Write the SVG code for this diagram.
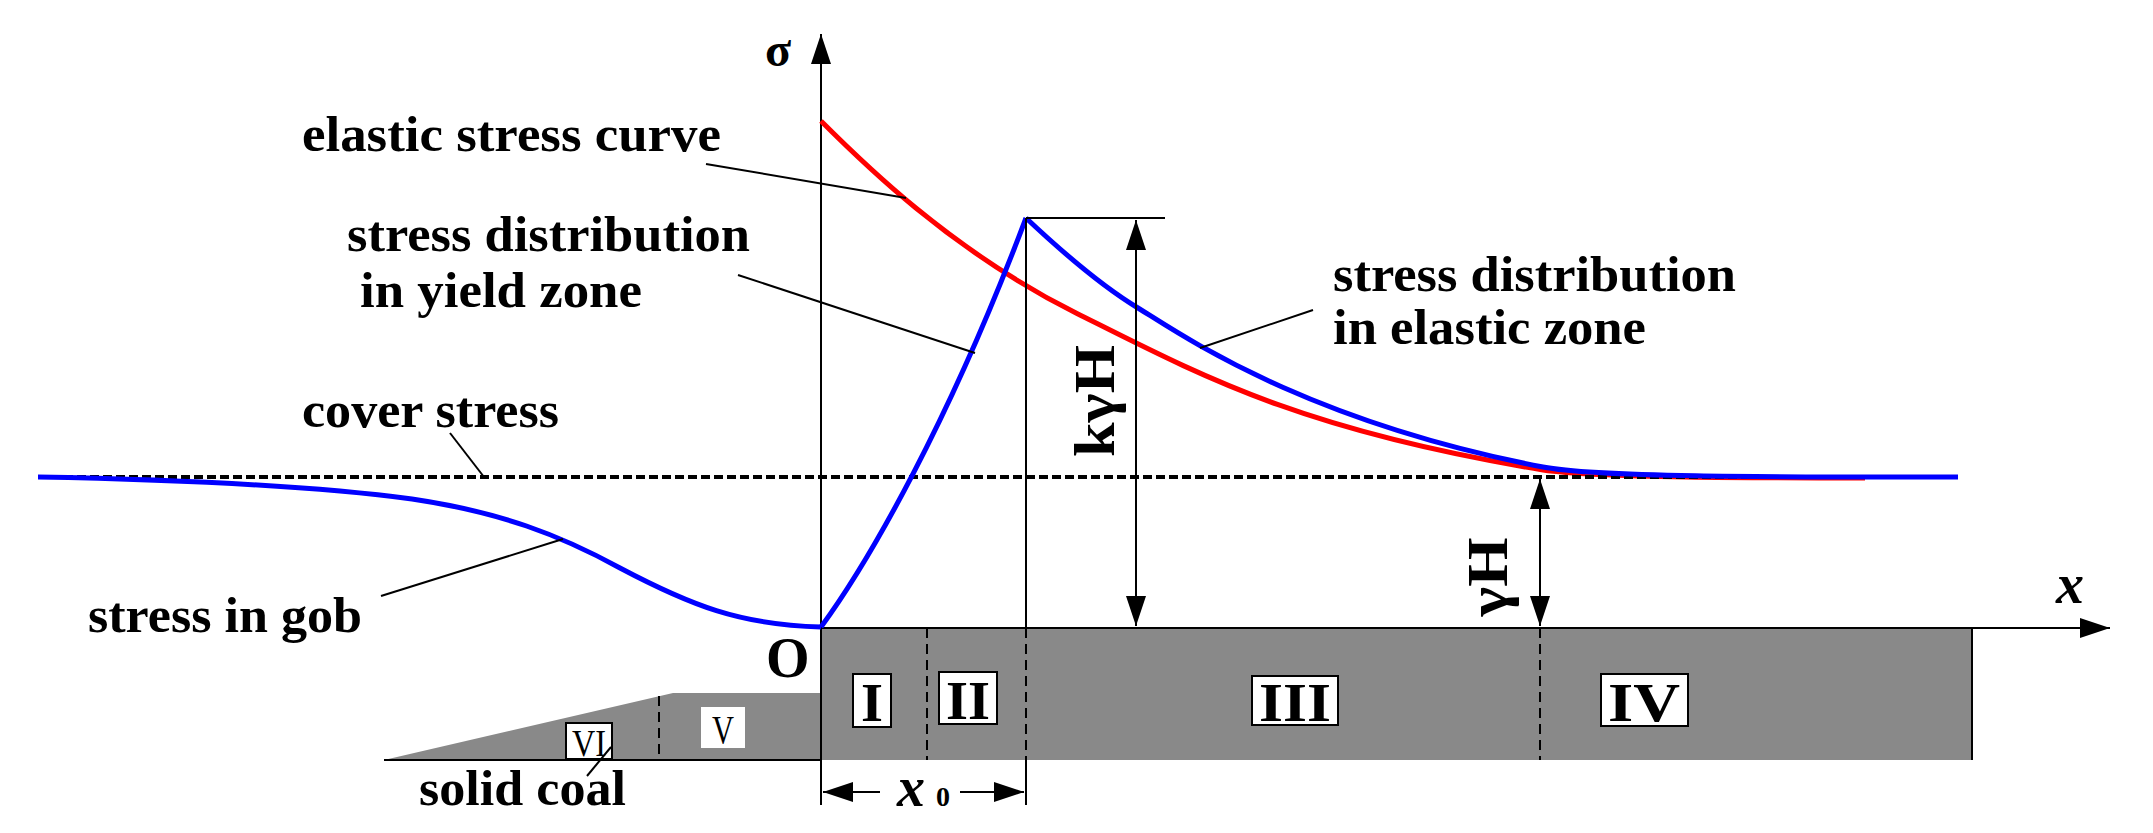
<svg xmlns="http://www.w3.org/2000/svg" width="2153" height="833" viewBox="0 0 2153 833">
<style>
text{font-family:"Liberation Serif",serif;font-weight:bold;fill:#000}
.t{font-size:50px}
.ln{stroke:#000;stroke-width:2;fill:none}
.ds{stroke:#000;stroke-width:2;stroke-dasharray:10,6;fill:none}
.bx{fill:#fff;stroke:#000;stroke-width:2}
.rn{font-size:54px;text-anchor:middle}
</style>
<defs>
<marker id="ad" markerWidth="30" markerHeight="20" refX="30" refY="10" orient="auto-start-reverse" markerUnits="userSpaceOnUse"><path d="M0,0 L30,10 L0,20Z" fill="#000"/></marker>
</defs>
<g id="coal">
<rect x="821" y="628" width="1151" height="132" fill="#898989"/>
<path d="M384,760 L673,693 L821,693 L821,760Z" fill="#898989"/>
<line class="ln" x1="1972" y1="628" x2="1972" y2="760"/>
<line class="ln" x1="384" y1="760" x2="821" y2="760"/>
<line class="ds" x1="659" y1="696" x2="659" y2="760"/>
<line class="ds" x1="927" y1="628" x2="927" y2="760"/>
<line class="ds" x1="1026" y1="628" x2="1026" y2="760"/>
<line class="ds" x1="1540" y1="628" x2="1540" y2="760"/>
</g>
<g id="zones">
<rect class="bx" x="853" y="674" width="38" height="53"/><text class="rn" x="872" y="721" textLength="22" lengthAdjust="spacingAndGlyphs">I</text>
<rect class="bx" x="939" y="672" width="58" height="52"/><text class="rn" x="968" y="719" textLength="44" lengthAdjust="spacingAndGlyphs">II</text>
<rect class="bx" x="1252" y="676" width="86" height="49"/><text class="rn" x="1295" y="721" textLength="72" lengthAdjust="spacingAndGlyphs">III</text>
<rect class="bx" x="1601" y="674" width="87" height="52"/><text class="rn" x="1644" y="721" textLength="72" lengthAdjust="spacingAndGlyphs">IV</text>
<rect x="701" y="707" width="44" height="41" fill="#fff"/><text x="723" y="743" style="font-size:40px;font-weight:normal;text-anchor:middle" textLength="22" lengthAdjust="spacingAndGlyphs">V</text>
<rect class="bx" x="566" y="723" width="46" height="36" stroke-width="1"/><text x="589" y="756" style="font-size:38px;font-weight:normal;text-anchor:middle" textLength="34" lengthAdjust="spacingAndGlyphs">VI</text>
</g>
<g id="connectors">
<line class="ln" x1="821" y1="805" x2="821" y2="34" stroke-width="2.5" marker-end="url(#ad)"/>
<line class="ln" x1="821" y1="628" x2="2110" y2="628" stroke-width="2.5" marker-end="url(#ad)"/>
<path d="M821,121 C860,160 950,250 1076,313 S1300,430 1543,470 C1600,478 1760,478 1865,478" stroke="#ff0000" stroke-width="5" fill="none"/>
<path d="M38,477 H1934" stroke="#000" stroke-width="4" stroke-dasharray="9,4" fill="none"/>
<path d="M38,477 C200,480 330,488 412,499 C500,512 560,535 620,568 C690,605 740,625 821,627" stroke="#0000ff" stroke-width="5" fill="none"/>
<path d="M821,627 C870,560 950,420 1026,218" stroke="#0000ff" stroke-width="5" fill="none"/>
<path d="M1026,218 C1060,250 1100,285 1138,308 S1300,420 1543,467 C1600,478 1800,477 1958,477" stroke="#0000ff" stroke-width="5" fill="none"/>
<line class="ln" x1="1026" y1="218" x2="1026" y2="628"/>
<line class="ln" x1="1026" y1="760" x2="1026" y2="805"/>
<line class="ln" x1="1026" y1="218" x2="1165" y2="218"/>
<line class="ln" x1="1136" y1="220" x2="1136" y2="626" marker-start="url(#ad)" marker-end="url(#ad)"/>
<line class="ln" x1="1540" y1="479" x2="1540" y2="626" marker-start="url(#ad)" marker-end="url(#ad)"/>
<line class="ln" x1="823" y1="792" x2="880" y2="792" marker-start="url(#ad)"/>
<line class="ln" x1="960" y1="792" x2="1024" y2="792" marker-end="url(#ad)"/>
<line class="ln" x1="706" y1="164" x2="906" y2="198"/>
<line class="ln" x1="738" y1="275" x2="975" y2="353"/>
<line class="ln" x1="450" y1="433" x2="484" y2="477"/>
<line class="ln" x1="381" y1="596" x2="563" y2="539"/>
<line class="ln" x1="587" y1="776" x2="611" y2="747"/>
<line class="ln" x1="1313" y1="310" x2="1200" y2="348"/>
</g>
<g id="labels">
<text x="765" y="66" style="font-size:48px">σ</text>
<text x="766" y="677" style="font-size:56px">O</text>
<text x="2056" y="603" style="font-size:56px;font-style:italic">x</text>
<text x="897" y="806" style="font-size:56px;font-style:italic">x</text>
<text x="936" y="806" style="font-size:28px">0</text>
<text class="t" x="302" y="151" textLength="419" lengthAdjust="spacingAndGlyphs">elastic stress curve</text>
<text class="t" x="347" y="251" textLength="403" lengthAdjust="spacingAndGlyphs">stress distribution</text>
<text class="t" x="360" y="307" textLength="282" lengthAdjust="spacingAndGlyphs">in yield zone</text>
<text class="t" x="302" y="427" textLength="257" lengthAdjust="spacingAndGlyphs">cover stress</text>
<text class="t" x="88" y="632" textLength="274" lengthAdjust="spacingAndGlyphs">stress in gob</text>
<text class="t" x="419" y="805" textLength="207" lengthAdjust="spacingAndGlyphs">solid coal</text>
<text class="t" x="1333" y="291" textLength="403" lengthAdjust="spacingAndGlyphs">stress distribution</text>
<text class="t" x="1333" y="344" textLength="313" lengthAdjust="spacingAndGlyphs">in elastic zone</text>
<text x="0" y="0" style="font-size:56px;text-anchor:middle" transform="translate(1114,401) rotate(-90)" textLength="112" lengthAdjust="spacingAndGlyphs">kγH</text>
<text x="0" y="0" style="font-size:56px;text-anchor:middle" transform="translate(1507,577) rotate(-90)" textLength="79" lengthAdjust="spacingAndGlyphs">γH</text>
</g>
</svg>
